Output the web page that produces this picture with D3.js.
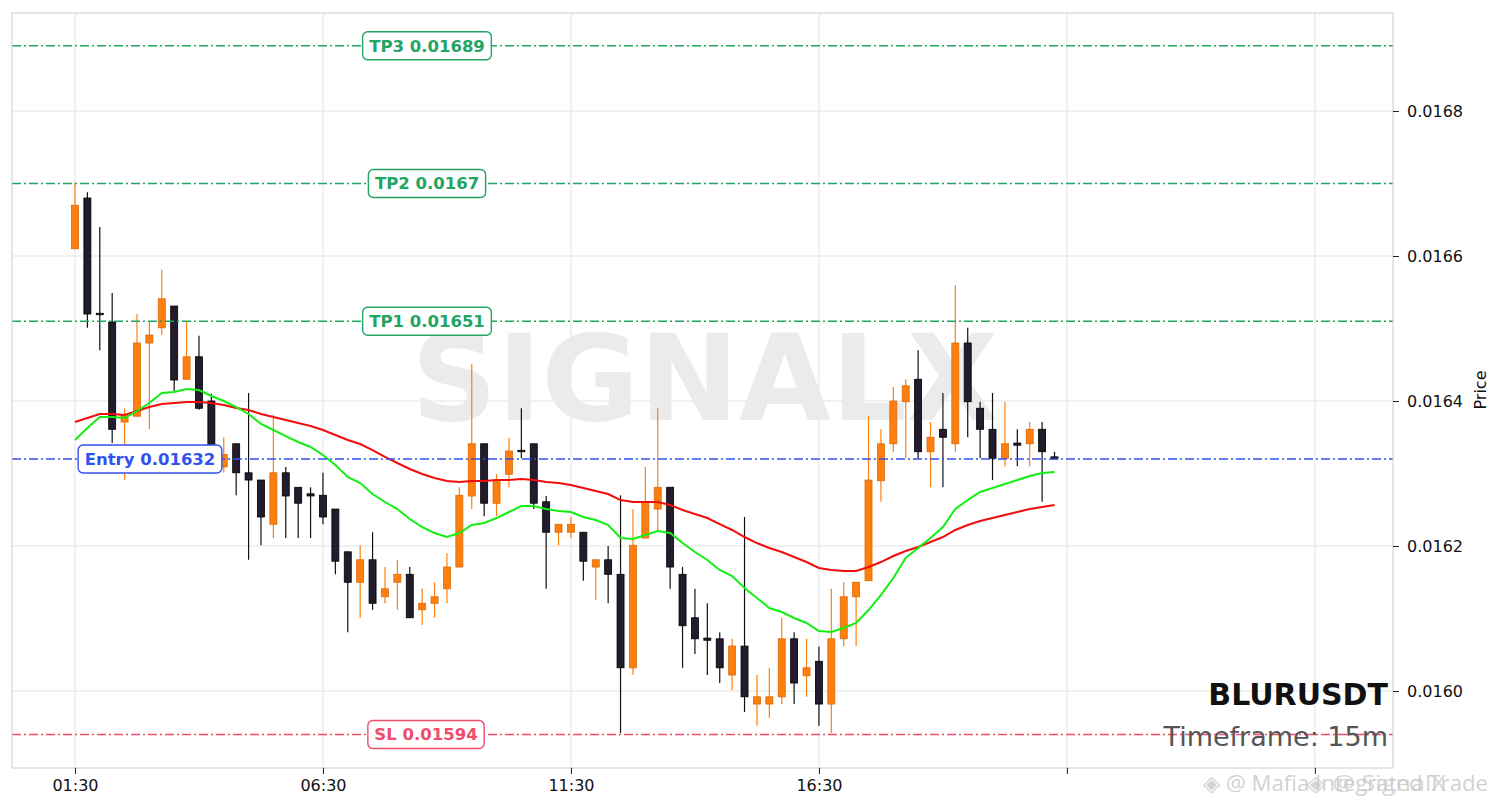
<!DOCTYPE html>
<html>
<head>
<meta charset="utf-8">
<script src="https://cdn.jsdelivr.net/npm/d3@7"></script>
<style>
  html, body { margin: 0; padding: 0; background: #fff; }
  svg { display: block; }
</style>
</head>
<body>
<svg id="chart" width="1501" height="808"></svg>
<script>
// ---------------- DATA ----------------
const symbol = "BLURUSDT";
const timeframe = "Timeframe: 15m";
const startTime = "01:30";
const candleMinutes = 15;

const openP = [0.016610,0.016680,0.016521,0.016509,0.016371,0.016379,0.016480,0.016501,0.016531,0.016430,
  0.016461,0.016400,0.016309,0.016341,0.016301,0.016291,0.016230,0.016301,0.016281,0.016272,
  0.016270,0.016251,0.016192,0.016150,0.016181,0.016130,0.016150,0.016161,0.016112,0.016121,
  0.016141,0.016171,0.016269,0.016341,0.016259,0.016299,0.016332,0.016341,0.016261,0.016219,
  0.016219,0.016219,0.016171,0.016181,0.016161,0.016032,0.016211,0.016251,0.016281,0.016161,
  0.016101,0.016073,0.016072,0.016022,0.016062,0.015982,0.015982,0.015992,0.016072,0.016021,
  0.016041,0.015982,0.016072,0.016130,0.016152,0.016290,0.016341,0.016399,0.016430,0.016330,
  0.016361,0.016341,0.016480,0.016390,0.016361,0.016321,0.016342,0.016341,0.016361,0.016323];
const highP = [0.016701,0.016688,0.016640,0.016549,0.016390,0.016520,0.016509,0.016581,0.016531,0.016509,
  0.016490,0.016410,0.016350,0.016341,0.016411,0.016291,0.016381,0.016309,0.016281,0.016281,
  0.016301,0.016251,0.016192,0.016201,0.016219,0.016171,0.016181,0.016171,0.016141,0.016150,
  0.016190,0.016281,0.016451,0.016341,0.016299,0.016349,0.016390,0.016341,0.016269,0.016230,
  0.016240,0.016219,0.016181,0.016200,0.016270,0.016251,0.016309,0.016390,0.016281,0.016171,
  0.016141,0.016121,0.016081,0.016072,0.016240,0.016022,0.016032,0.016101,0.016081,0.016072,
  0.016061,0.016141,0.016150,0.016150,0.016379,0.016361,0.016419,0.016430,0.016470,0.016371,
  0.016411,0.016560,0.016501,0.016399,0.016411,0.016399,0.016361,0.016371,0.016371,0.016330];
const lowP = [0.016610,0.016501,0.016470,0.016342,0.016291,0.016379,0.016361,0.016491,0.016411,0.016430,
  0.016388,0.016332,0.016301,0.016270,0.016181,0.016201,0.016211,0.016211,0.016211,0.016211,
  0.016230,0.016161,0.016081,0.016101,0.016112,0.016121,0.016112,0.016101,0.016091,0.016101,
  0.016121,0.016171,0.016251,0.016241,0.016241,0.016281,0.016321,0.016251,0.016141,0.016201,
  0.016211,0.016152,0.016126,0.016121,0.015942,0.016022,0.016211,0.016222,0.016141,0.016032,
  0.016051,0.016022,0.016011,0.016001,0.015971,0.015952,0.015963,0.015982,0.015982,0.015992,
  0.015952,0.015942,0.016062,0.016062,0.016152,0.016261,0.016330,0.016321,0.016321,0.016281,
  0.016281,0.016330,0.016350,0.016321,0.016291,0.016310,0.016310,0.016310,0.016261,0.016320];
const closeP = [0.016670,0.016520,0.016519,0.016361,0.016381,0.016480,0.016491,0.016541,0.016429,0.016461,
  0.016390,0.016339,0.016326,0.016301,0.016291,0.016240,0.016301,0.016269,0.016259,0.016269,
  0.016240,0.016179,0.016150,0.016181,0.016121,0.016141,0.016161,0.016101,0.016121,0.016130,
  0.016171,0.016270,0.016341,0.016259,0.016290,0.016331,0.016330,0.016259,0.016219,0.016230,
  0.016230,0.016179,0.016181,0.016161,0.016032,0.016201,0.016261,0.016281,0.016171,0.016090,
  0.016072,0.016070,0.016032,0.016062,0.015992,0.015992,0.015992,0.016072,0.016011,0.016032,
  0.015982,0.016072,0.016130,0.016150,0.016291,0.016341,0.016400,0.016421,0.016330,0.016350,
  0.016350,0.016480,0.016399,0.016361,0.016321,0.016341,0.016339,0.016361,0.016330,0.016320];

// fast moving average (green)
const maFast = [0.0163462,0.0163628,0.0163779,0.0163779,0.0163766,0.0163862,0.0163972,0.0164110,0.0164124,0.0164166,
  0.0164152,0.0164069,0.0164000,0.0163917,0.0163821,0.0163683,0.0163600,0.0163517,0.0163435,0.0163366,
  0.0163255,0.0163117,0.0162952,0.0162869,0.0162717,0.0162607,0.0162510,0.0162372,0.0162262,0.0162179,
  0.0162124,0.0162179,0.0162290,0.0162317,0.0162386,0.0162469,0.0162552,0.0162552,0.0162510,0.0162483,
  0.0162469,0.0162400,0.0162359,0.0162290,0.0162110,0.0162097,0.0162152,0.0162207,0.0162179,0.0162041,
  0.0161917,0.0161807,0.0161669,0.0161586,0.0161421,0.0161283,0.0161145,0.0161090,0.0161007,0.0160938,
  0.0160828,0.0160814,0.0160869,0.0160938,0.0161117,0.0161324,0.0161559,0.0161835,0.0161972,0.0162110,
  0.0162262,0.0162510,0.0162634,0.0162745,0.0162800,0.0162855,0.0162910,0.0162966,0.0163007,0.0163021];
// slow moving average (red)
const maSlow = [0.0163710,0.0163766,0.0163821,0.0163821,0.0163807,0.0163862,0.0163917,0.0163959,0.0163972,0.0163986,
  0.0163986,0.0163972,0.0163945,0.0163903,0.0163876,0.0163821,0.0163779,0.0163738,0.0163697,0.0163655,
  0.0163600,0.0163531,0.0163462,0.0163407,0.0163324,0.0163228,0.0163145,0.0163062,0.0162993,0.0162938,
  0.0162897,0.0162883,0.0162897,0.0162897,0.0162910,0.0162910,0.0162924,0.0162910,0.0162883,0.0162869,
  0.0162841,0.0162800,0.0162759,0.0162717,0.0162634,0.0162607,0.0162607,0.0162607,0.0162566,0.0162497,
  0.0162441,0.0162386,0.0162303,0.0162221,0.0162124,0.0162041,0.0161972,0.0161917,0.0161848,0.0161779,
  0.0161697,0.0161669,0.0161655,0.0161655,0.0161710,0.0161779,0.0161862,0.0161931,0.0161986,0.0162055,
  0.0162124,0.0162221,0.0162290,0.0162345,0.0162386,0.0162428,0.0162469,0.0162510,0.0162538,0.0162566];

const levelNames  = ["TP3", "TP2", "TP1", "Entry", "SL"];
const levelValues = [0.01689, 0.0167, 0.01651, 0.01632, 0.01594];
const levelLabels = ["TP3 0.01689", "TP2 0.0167", "TP1 0.01651", "Entry 0.01632", "SL 0.01594"];

const yTicks = [0.0160, 0.0162, 0.0164, 0.0166, 0.0168];
const xTickIdx = [0, 20, 40, 60, 80, 100];
const xTickLabels = ["01:30", "06:30", "11:30", "16:30", "", ""];

// ---------------- LAYOUT / STYLE ----------------
const W = 1501, H = 808;
const plot = { left: 12, right: 1393, top: 13, bottom: 768 };
const FONT = "'DejaVu Sans', sans-serif";
const levelColor = { TP3: "#22a463", TP2: "#22a463", TP1: "#22a463", Entry: "#3350f0", SL: "#f04c6c" };
const levelLabelX = { TP3: 427, TP2: 427, TP1: 427, Entry: 150, SL: 426 };

const svg = d3.select("#chart");
svg.append("rect").attr("width", W).attr("height", H).attr("fill", "#fff");

const n = openP.length;
const candles = d3.range(n).map(i => ({ i, o: openP[i], h: highP[i], l: lowP[i], c: closeP[i] }));

const x = d3.scaleLinear().domain([-5.08, 106.3]).range([plot.left, plot.right]);
const y = d3.scaleLinear().domain([0.0158938, 0.0169352]).range([plot.bottom, plot.top]);

svg.append("defs").append("clipPath").attr("id", "clip")
  .append("rect").attr("x", plot.left).attr("y", plot.top)
  .attr("width", plot.right - plot.left).attr("height", plot.bottom - plot.top);

// grid
const grid = svg.append("g");
grid.selectAll(".hg").data(yTicks).join("line")
  .attr("x1", plot.left).attr("x2", plot.right)
  .attr("y1", d => y(d)).attr("y2", d => y(d))
  .attr("stroke", "#e3e3e3").attr("stroke-width", 1);
grid.selectAll(".vg").data(xTickIdx).join("line")
  .attr("x1", d => x(d)).attr("x2", d => x(d))
  .attr("y1", plot.top).attr("y2", plot.bottom)
  .attr("stroke", "#e3e3e3").attr("stroke-width", 1);

const inner = svg.append("g").attr("clip-path", "url(#clip)");

// watermark
inner.append("text")
  .attr("x", 705).attr("y", 420)
  .attr("text-anchor", "middle")
  .attr("font-family", FONT).attr("font-weight", "bold").attr("font-size", 119)
  .attr("fill", "#ebebeb")
  .text("SIGNALX");

// candles
const bw = 7;
const up = "#ff7f0e", upEdge = "#d96a0a", dn = "#231b2e", dnEdge = "#000000";
const cg = inner.append("g");
cg.selectAll(".wick").data(candles).join("line")
  .attr("x1", d => x(d.i)).attr("x2", d => x(d.i))
  .attr("y1", d => y(d.h)).attr("y2", d => y(d.l))
  .attr("stroke", d => d.c >= d.o ? up : "#111")
  .attr("stroke-width", 1.2);
cg.selectAll(".body").data(candles).join("rect")
  .attr("x", d => x(d.i) - bw / 2)
  .attr("y", d => y(Math.max(d.o, d.c)))
  .attr("width", bw)
  .attr("height", d => Math.max(1, Math.abs(y(d.o) - y(d.c))))
  .attr("fill", d => d.c >= d.o ? up : dn)
  .attr("stroke", d => d.c >= d.o ? upEdge : dnEdge)
  .attr("stroke-width", 0.8);

// moving averages
const lineGen = arr => d3.line().x((d, i) => x(i)).y(d => y(d))(arr);
inner.append("path").attr("d", lineGen(maSlow)).attr("fill", "none")
  .attr("stroke", "#f20c0c").attr("stroke-width", 2);
inner.append("path").attr("d", lineGen(maFast)).attr("fill", "none")
  .attr("stroke", "#13ee13").attr("stroke-width", 2);

// level lines
const lg = inner.append("g");
levelNames.forEach((name, k) => {
  lg.append("line")
    .attr("x1", plot.left).attr("x2", plot.right)
    .attr("y1", y(levelValues[k])).attr("y2", y(levelValues[k]))
    .attr("stroke", levelColor[name]).attr("stroke-width", 1.4)
    .attr("stroke-dasharray", "9,3,2,3");
});

// level labels
levelNames.forEach((name, k) => {
  const g = svg.append("g");
  const t = g.append("text")
    .attr("x", levelLabelX[name]).attr("y", y(levelValues[k]))
    .attr("dy", "0.36em")
    .attr("text-anchor", "middle")
    .attr("font-family", FONT).attr("font-weight", "bold").attr("font-size", 16.5)
    .attr("fill", levelColor[name])
    .text(levelLabels[k]);
  const bb = t.node().getBBox();
  g.insert("rect", "text")
    .attr("x", bb.x - 6.5).attr("y", y(levelValues[k]) - 14)
    .attr("width", bb.width + 13).attr("height", 28)
    .attr("rx", 5).attr("ry", 5)
    .attr("fill", "#fff").attr("stroke", levelColor[name]).attr("stroke-width", 1.4);
});

// symbol / timeframe
svg.append("text").attr("x", 1388).attr("y", 705).attr("text-anchor", "end")
  .attr("font-family", FONT).attr("font-weight", "bold").attr("font-size", 30)
  .attr("fill", "#111").text(symbol);
svg.append("text").attr("x", 1388).attr("y", 746).attr("text-anchor", "end")
  .attr("font-family", FONT).attr("font-size", 27)
  .attr("fill", "#555").text(timeframe);

// frame
svg.append("rect").attr("x", plot.left).attr("y", plot.top)
  .attr("width", plot.right - plot.left).attr("height", plot.bottom - plot.top)
  .attr("fill", "none").attr("stroke", "#cccccc").attr("stroke-width", 1);

// right axis
const yAxis = d3.axisRight(y).tickValues(yTicks).tickFormat(d3.format(".4f")).tickSize(6).tickPadding(8);
const ya = svg.append("g").attr("transform", `translate(${plot.right},0)`).call(yAxis);
ya.select(".domain").remove();
ya.selectAll("text").attr("font-family", FONT).attr("font-size", 16).attr("fill", "#111");
ya.selectAll("line").attr("stroke", "#222");

// bottom axis
const xAxis = d3.axisBottom(x).tickValues(xTickIdx)
  .tickFormat((d, i) => xTickLabels[i]).tickSize(6).tickPadding(6);
const xa = svg.append("g").attr("transform", `translate(0,${plot.bottom})`).call(xAxis);
xa.select(".domain").remove();
xa.selectAll("text").attr("font-family", FONT).attr("font-size", 16).attr("fill", "#111");
xa.selectAll("line").attr("stroke", "#222");

// y label
svg.append("text")
  .attr("transform", "translate(1486,390) rotate(-90)")
  .attr("text-anchor", "middle")
  .attr("font-family", FONT).attr("font-size", 16).attr("fill", "#111")
  .text("Price");

// corner watermarks
svg.append("text").attr("x", 1203).attr("y", 791)
  .attr("font-family", "'Open Sans', sans-serif").attr("font-size", 22)
  .attr("fill", "#c9c9c9").attr("fill-opacity", 0.85)
  .attr("textLength", 285).attr("lengthAdjust", "spacingAndGlyphs")
  .text("◈ @ Mafia Integrated Trade");
svg.append("text").attr("x", 1306).attr("y", 791)
  .attr("font-family", "'Open Sans', sans-serif").attr("font-size", 22)
  .attr("fill", "#c9c9c9").attr("fill-opacity", 0.75)
  .attr("textLength", 140).attr("lengthAdjust", "spacingAndGlyphs")
  .text("◈ @ SignalX");
</script>
</body>
</html>
